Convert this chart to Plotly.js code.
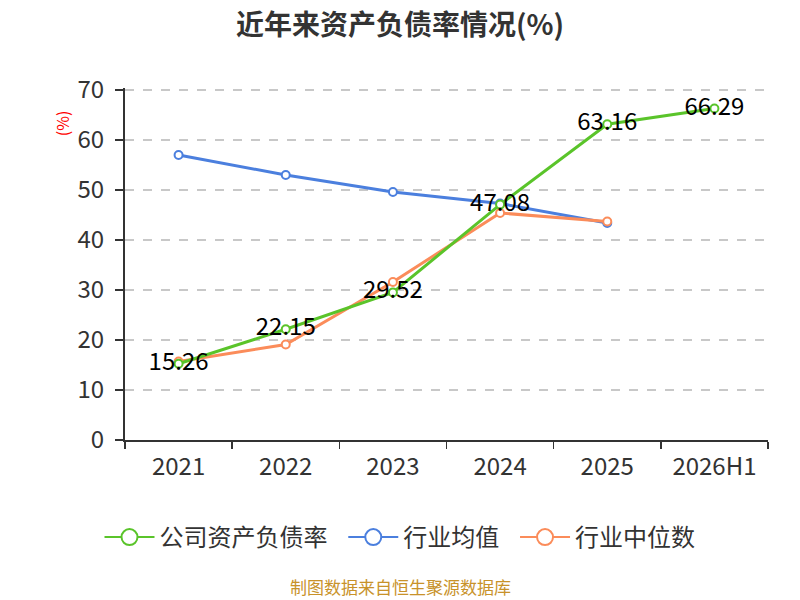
<!DOCTYPE html>
<html>
<head>
<meta charset="utf-8">
<script src="https://cdn.plot.ly/plotly-3.0.1.min.js"></script>
<style>
  html, body { margin: 0; padding: 0; background: #fff; }
  #chart { width: 800px; height: 600px; }
</style>
</head>
<body>
<div id="chart"></div>
<script>
(function () {
  'use strict';

  var years = ['2021', '2022', '2023', '2024', '2025', '2026H1'];
  var companyRatio = [15.26, 22.15, 29.52, 47.08, 63.16, 66.29];
  var industryMean = [57.0, 53.0, 49.6, 47.3, 43.4];
  var industryMedian = [15.7, 19.1, 31.6, 45.4, 43.7];

  var green = '#5ac42a';
  var blue = '#4b7fde';
  var orange = '#fb8c5a';
  var cjk = '"Noto Sans CJK SC", "Noto Sans", sans-serif';
  var gap = '\u00a0\u00a0';

  function series(name, y, color, labels) {
    var t = {
      name: name,
      x: years.slice(0, y.length),
      y: y,
      type: 'scatter',
      mode: labels ? 'lines+markers+text' : 'lines+markers',
      line: { color: color, width: 3 },
      marker: { size: 8, color: '#fff', line: { color: color, width: 2 } },
      showlegend: false,
      hoverinfo: 'x+y'
    };
    if (labels) {
      t.text = y.map(function (v) { return v.toFixed(2); });
      t.textposition = 'middle center';
      t.textfont = { size: 24, color: '#000', family: cjk };
    }
    return t;
  }

  // legend-only entries, drawn with bigger open circles like the original
  function legendEntry(name, color) {
    return {
      name: name,
      x: [null], y: [null],
      type: 'scatter',
      mode: 'lines+markers',
      line: { color: color, width: 2 },
      marker: { size: 16, color: '#fff', line: { color: color, width: 2 } },
      showlegend: true,
      hoverinfo: 'skip'
    };
  }

  var data = [
    series('行业均值', industryMean, blue, false),
    series('行业中位数', industryMedian, orange, false),
    series('公司资产负债率', companyRatio, green, true),
    legendEntry('公司资产负债率' + gap, green),
    legendEntry('行业均值' + gap, blue),
    legendEntry('行业中位数', orange)
  ];

  // paper x of the page centre (plot area is 125..768 px)
  var midX = (400 - 125) / 643;

  var layout = {
    width: 800,
    height: 600,
    paper_bgcolor: '#fff',
    plot_bgcolor: '#fff',
    font: { family: cjk, color: '#333' },
    margin: { l: 125, r: 32, t: 88, b: 160 },
    title: {
      text: '<b>近年来资产负债率情况(%)</b>',
      font: { size: 28, color: '#333', family: cjk },
      x: 0.5, xanchor: 'center', y: 0.958, yanchor: 'middle'
    },
    showlegend: true,
    legend: {
      orientation: 'h',
      x: midX, xanchor: 'center',
      y: -0.277, yanchor: 'middle',
      font: { size: 24, color: '#333', family: cjk },
      traceorder: 'normal',
      itemsizing: 'trace',
      itemwidth: 50
    },
    xaxis: {
      type: 'category',
      categoryorder: 'array',
      categoryarray: years,
      range: [-0.5, 5.5],
      tickson: 'boundaries',
      ticks: 'outside',
      ticklen: 7,
      tickcolor: '#333',
      tickwidth: 1.5,
      showline: true,
      linecolor: '#333',
      linewidth: 2,
      showgrid: false,
      zeroline: false,
      ticklabelstandoff: 4,
      tickfont: { size: 24, color: '#333', family: cjk }
    },
    yaxis: {
      range: [0, 70.4],
      tick0: 0,
      dtick: 10,
      ticks: 'outside',
      ticklen: 8,
      tickcolor: '#333',
      tickwidth: 1.5,
      showline: true,
      linecolor: '#333',
      linewidth: 2,
      showgrid: true,
      gridcolor: '#c8c8c8',
      griddash: 'dash',
      gridwidth: 1.5,
      zeroline: false,
      ticklabelstandoff: 6,
      tickfont: { size: 24, color: '#333', family: cjk }
    },
    annotations: [
      {
        text: '(%)', textangle: -90,
        xref: 'paper', yref: 'paper', x: -0.098, y: 0.9,
        xanchor: 'center', yanchor: 'middle', showarrow: false,
        font: { size: 16, color: '#ff0000', family: cjk }
      },
      {
        text: '制图数据来自恒生聚源数据库',
        xref: 'paper', yref: 'paper', x: midX, y: -0.415,
        xanchor: 'center', yanchor: 'middle', showarrow: false,
        font: { size: 17, color: '#c8922a', family: cjk }
      }
    ]
  };

  Plotly.newPlot('chart', data, layout, { displayModeBar: false, staticPlot: true });
})();
</script>
</body>
</html>
